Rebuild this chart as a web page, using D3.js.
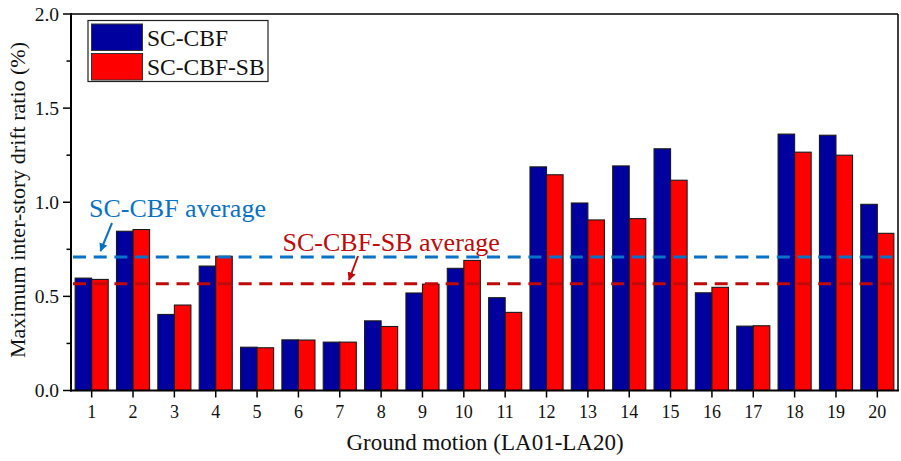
<!DOCTYPE html>
<html>
<head>
<meta charset="utf-8">
<script src="https://cdn.jsdelivr.net/npm/d3@7"></script>
<style>
  html, body { margin: 0; padding: 0; background: #fff; }
  svg { display: block; font-family: "Liberation Serif", "Times New Roman", serif; }
</style>
</head>
<body>
<svg id="chart" width="901" height="461"></svg>
<script>
// Ground motions LA01-LA20
const categories = ["1","2","3","4","5","6","7","8","9","10","11","12","13","14","15","16","17","18","19","20"];
const seriesNames = ["SC-CBF", "SC-CBF-SB"];
// Maximum inter-story drift ratio (%)
const scCbf   = [0.597, 0.846, 0.404, 0.661, 0.230, 0.269, 0.257, 0.370, 0.518, 0.649, 0.493, 1.188, 0.996, 1.193, 1.284, 0.519, 0.342, 1.362, 1.356, 0.989];
const scCbfSb = [0.590, 0.855, 0.454, 0.713, 0.227, 0.268, 0.257, 0.340, 0.565, 0.691, 0.415, 1.146, 0.906, 0.913, 1.117, 0.548, 0.344, 1.266, 1.250, 0.835];
const averages = [0.709, 0.567];
const yTicks = [0.0, 0.5, 1.0, 1.5, 2.0];
const yMinorTicks = [0.25, 0.75, 1.25, 1.75];

const colors = ["#00009F", "#FF0000"];
const avgColors = ["#0A72C6", "#C00A0A"];

const svg = d3.select("#chart");
const pLeft = 71, pRight = 898, pTop = 14, pBottom = 390.5;

const x = d3.scaleBand().domain(categories).range([pLeft, pRight]).paddingInner(0.2).paddingOuter(0.1);
const xs = d3.scaleBand().domain(seriesNames).range([0, x.bandwidth()]);
const y = d3.scaleLinear().domain([0, 2]).range([pBottom, pTop]);

const rows = categories.map((c, i) => ({ c, vals: [scCbf[i], scCbfSb[i]] }));

// Bars
const g = svg.append("g");
g.selectAll("g.cat").data(rows).join("g")
  .attr("class", "cat")
  .attr("transform", d => `translate(${x(d.c)},0)`)
  .selectAll("rect").data(d => d.vals.map((v, k) => ({ v, k })))
  .join("rect")
  .attr("x", d => xs(seriesNames[d.k]))
  .attr("y", d => y(d.v))
  .attr("width", xs.bandwidth())
  .attr("height", d => y(0) - y(d.v))
  .attr("fill", d => colors[d.k])
  .attr("stroke", "#1a1a1a")
  .attr("stroke-width", 1.1);

// Average lines
averages.forEach((a, k) => {
  svg.append("line")
    .attr("x1", 73).attr("x2", 892)
    .attr("y1", y(a)).attr("y2", y(a))
    .attr("stroke", avgColors[k])
    .attr("stroke-width", 3)
    .attr("stroke-dasharray", "13,7.7");
});

// Frame (top & right)
svg.append("line").attr("x1", pLeft).attr("x2", pRight).attr("y1", pTop).attr("y2", pTop)
  .attr("stroke", "#000").attr("stroke-width", 1.5);
svg.append("line").attr("x1", pRight).attr("x2", pRight).attr("y1", pTop).attr("y2", pBottom)
  .attr("stroke", "#000").attr("stroke-width", 1.5);

// Y axis
const yAxis = svg.append("g").attr("transform", `translate(${pLeft},0)`);
yAxis.append("line").attr("x1", 0).attr("x2", 0).attr("y1", pTop - 1).attr("y2", pBottom + 1)
  .attr("stroke", "#000").attr("stroke-width", 2);
yAxis.selectAll("line.maj").data(yTicks).join("line").attr("class", "maj")
  .attr("x1", -8).attr("x2", 0).attr("y1", d => y(d)).attr("y2", d => y(d))
  .attr("stroke", "#000").attr("stroke-width", 1.5);
yAxis.selectAll("line.min").data(yMinorTicks).join("line").attr("class", "min")
  .attr("x1", -4.5).attr("x2", 0).attr("y1", d => y(d)).attr("y2", d => y(d))
  .attr("stroke", "#000").attr("stroke-width", 1.5);
yAxis.selectAll("text").data(yTicks).join("text")
  .attr("x", -12).attr("y", d => y(d)).attr("dy", "0.35em")
  .attr("text-anchor", "end").attr("font-size", 19.5).attr("fill", "#111")
  .text(d => d3.format(".1f")(d));

// X axis
const xAxis = svg.append("g").attr("transform", `translate(0,${pBottom})`);
xAxis.append("line").attr("x1", pLeft - 1).attr("x2", pRight + 1).attr("y1", 0).attr("y2", 0)
  .attr("stroke", "#000").attr("stroke-width", 2);
xAxis.selectAll("line.tick").data(categories).join("line").attr("class", "tick")
  .attr("x1", d => x(d) + x.bandwidth() / 2).attr("x2", d => x(d) + x.bandwidth() / 2)
  .attr("y1", 0).attr("y2", 7)
  .attr("stroke", "#000").attr("stroke-width", 1.5);
xAxis.selectAll("text").data(categories).join("text")
  .attr("x", d => x(d) + x.bandwidth() / 2).attr("y", 27)
  .attr("text-anchor", "middle").attr("font-size", 18).attr("fill", "#111")
  .text(d => d);

// Axis titles
svg.append("text")
  .attr("x", 485).attr("y", 450)
  .attr("text-anchor", "middle").attr("font-size", 23).attr("fill", "#111")
  .text("Ground motion (LA01-LA20)");
svg.append("text")
  .attr("transform", `translate(25,200) rotate(-90)`)
  .attr("text-anchor", "middle").attr("font-size", 22).attr("fill", "#111")
  .text("Maximum inter-story drift ratio (%)");

// Legend
const lg = svg.append("g");
lg.append("rect").attr("x", 88).attr("y", 20.5).attr("width", 180).attr("height", 61)
  .attr("fill", "#fff").attr("stroke", "#222").attr("stroke-width", 1.2);
seriesNames.forEach((n, k) => {
  const yy = 24 + k * 29.5;
  lg.append("rect").attr("x", 91.5).attr("y", yy).attr("width", 51).attr("height", 26.5)
    .attr("fill", colors[k]).attr("stroke", "#333").attr("stroke-width", 1);
  lg.append("text").attr("x", 147).attr("y", yy + 21.5)
    .attr("font-size", 23.5).attr("fill", "#111").text(n);
});

// Average annotations
const defs = svg.append("defs");
avgColors.forEach((c, k) => {
  defs.append("marker").attr("id", "ah" + k)
    .attr("viewBox", "0 0 10 10").attr("refX", 9).attr("refY", 5)
    .attr("markerWidth", 4.2).attr("markerHeight", 4.2).attr("orient", "auto")
    .append("path").attr("d", "M0,0 L10,5 L0,10 Z").attr("fill", c);
});
const notes = [
  { text: "SC-CBF average", tx: 89, ty: 217, from: [112, 223], to: [100.5, 251] },
  { text: "SC-CBF-SB average", tx: 282.5, ty: 251, from: [358, 256], to: [349, 280] }
];
notes.forEach((n, k) => {
  svg.append("text").attr("x", n.tx).attr("y", n.ty)
    .attr("font-size", 26).attr("fill", avgColors[k]).text(n.text);
  svg.append("line")
    .attr("x1", n.from[0]).attr("y1", n.from[1]).attr("x2", n.to[0]).attr("y2", n.to[1])
    .attr("stroke", avgColors[k]).attr("stroke-width", 2)
    .attr("marker-end", `url(#ah${k})`);
});
</script>
</body>
</html>
